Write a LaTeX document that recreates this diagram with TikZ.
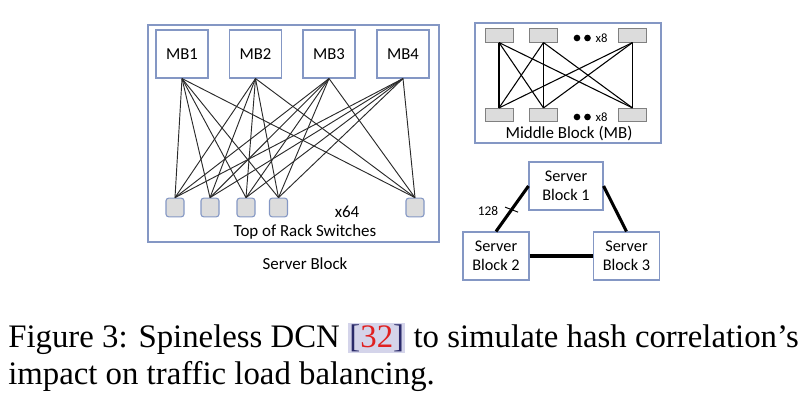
\documentclass[tikz,border=0pt]{standalone}
\usepackage{xcolor}
\usepackage{fontspec}
\setmainfont{Liberation Serif}
\newfontfamily\calibri{Carlito}
\usepackage{tikz}
\usetikzlibrary{calc}
\usetikzlibrary{positioning}
\definecolor{boxblue}{HTML}{8497C4}
\definecolor{switchgray}{HTML}{DCDCDC}
\definecolor{linegray}{HTML}{2A2A2A}
\definecolor{citebg}{HTML}{D4D4EA}
\definecolor{citered}{HTML}{E02020}
\definecolor{citeblue}{HTML}{2A2A6A}
\tikzset{>=latex}
\tikzstyle{frame} = [draw = boxblue, line width = 0.8]
\tikzstyle{mb} = [draw = boxblue, line width = 0.8, minimum width = 39, minimum height = 36, inner sep = 0, font = \calibri\fontsize{12.5}{15}\selectfont]
\tikzstyle{tor} = [draw = boxblue, fill = switchgray, rounded corners = 2, line width = 0.8, minimum width = 13.5, minimum height = 14, inner sep = 0]
\tikzstyle{sw} = [draw = gray, fill = switchgray, line width = 0.6, minimum width = 21, minimum height = 10, inner sep = 0]
\tikzstyle{sb} = [draw = boxblue, fill = white, line width = 0.8, minimum height = 36, inner sep = 0, align = center, font = \calibri\fontsize{12.2}{14}\selectfont]
\tikzstyle{dot} = [circle, fill = black, minimum size = 5, inner sep = 0]
\tikzstyle{lbl} = [draw = none, inner sep = 1, font = \calibri\fontsize{12.7}{15}\selectfont]
\tikzstyle{small} = [draw = none, inner sep = 1, font = \calibri\fontsize{9.5}{11}\selectfont]
\tikzstyle{wire} = [draw = linegray, line width = 0.7]
\tikzstyle{link} = [draw = black, line width = 2.3]
\tikzstyle{caption} = [draw = none, inner sep = 0, anchor = base west, font = \fontsize{24.6}{28}\selectfont]

\begin{document}
\begin{tikzpicture}[x = 0.75pt, y = -0.75pt]
\useasboundingbox (0, 0) rectangle (810, 403);
% server block
\draw [frame] (148, 25) rectangle (439, 242);
\node [mb] (MB1) at (182, 54) {MB1};
\node [mb] (MB2) at (255.5, 54) {MB2};
\node [mb] (MB3) at (329, 54) {MB3};
\node [mb] (MB4) at (403, 54) {MB4};
\node [tor] (T1) at (175, 207.5) {};
\node [tor] (T2) at (210, 207.5) {};
\node [tor] (T3) at (246, 207.5) {};
\node [tor] (T4) at (278.5, 207.5) {};
\node [tor] (T5) at (415, 207.5) {};
\foreach \m in {1, 2, 3, 4}
  \foreach \t in {1, 2, 3, 4, 5}
    \draw [wire] (MB\m.south) to (T\t.north);
\node [lbl] (x64) at (347, 212) {x64};
\node [lbl] (tor) at (305, 232) {Top of Rack Switches};
\node [lbl] (sblock) at (305, 264) {Server Block};
% middle block
\draw [frame] (475, 23) rectangle (661, 143);
\node [sw] (U1) at (499, 35.5) {};
\node [sw] (U2) at (543.5, 35.5) {};
\node [sw] (U3) at (632.5, 35.5) {};
\node [sw] (L1) at (499, 115) {};
\node [sw] (L2) at (543.5, 115) {};
\node [sw] (L3) at (632.5, 115) {};
\foreach \u in {1, 2, 3}
  \foreach \l in {1, 2, 3}
    \draw [draw = black, line width = 0.8] (U\u.south) to (L\l.north);
\node [dot] (ud1) at (577, 38) {};
\node [dot] (ud2) at (587.5, 38) {};
\node [small, right = 3 of ud2] (ux8) {x8};
\node [dot] (ld1) at (577, 117) {};
\node [dot] (ld2) at (587.5, 117) {};
\node [small, right = 3 of ld2] (lx8) {x8};
\node [lbl] (mblock) at (569, 133) {Middle Block (MB)};
% server block ring
\node [sb, minimum width = 55.5] (SB1) at (566, 186) {Server\\Block 1};
\node [sb, minimum width = 49.5] (SB2) at (496, 256) {Server\\Block 2};
\node [sb, minimum width = 49] (SB3) at (626.5, 256) {Server\\Block 3};
\draw [link] (SB1.west) to (SB2.north);
\draw [link] (SB1.east) to (SB3.north);
\draw [link] (SB2.east) to (SB3.west);
\coordinate (cut) at ($(SB1.west)!0.52!(SB2.north)$);
\draw [draw = black, line width = 0.7] ($(cut) + (-6.5, -2.5)$) to ($(cut) + (6.5, 2.5)$);
\node [small, font = \calibri\fontsize{10}{12}\selectfont] (n128) at (488, 210.5) {128};
% caption
\node [caption] (cap1) at (8, 347)
  {Figure 3: Spineless DCN {\setlength{\fboxsep}{1pt}\colorbox{citebg}{\textcolor{citeblue}{[}\textcolor{citered}{32}\textcolor{citeblue}{]}}} to simulate hash correlation’s};
\node [caption] (cap2) at (8, 384) {impact on traffic load balancing.};
\end{tikzpicture}
\end{document}
